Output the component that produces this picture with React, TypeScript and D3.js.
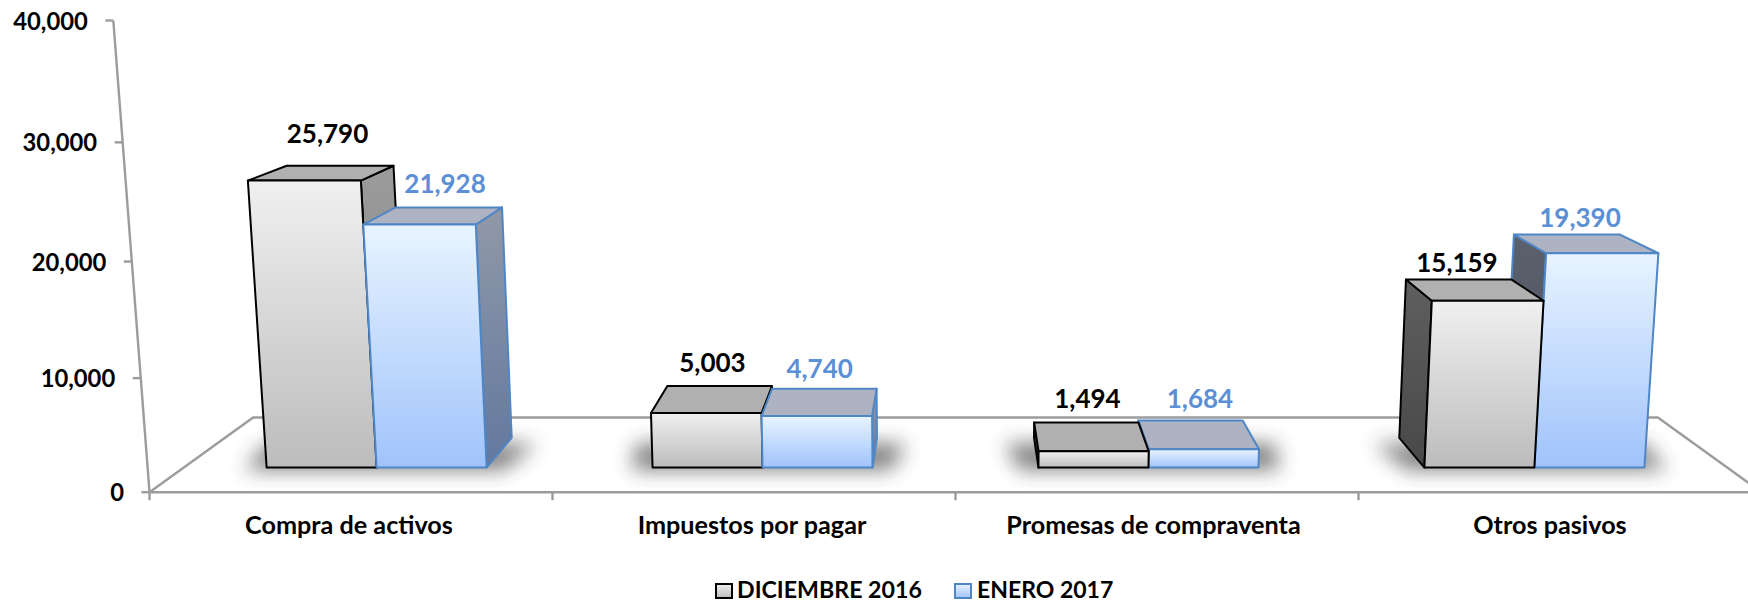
import React from "react";
import * as d3 from "d3";

const categories = ["Compra de activos", "Impuestos por pagar", "Promesas de compraventa", "Otros pasivos"];
const seriesNames = ["DICIEMBRE 2016", "ENERO 2017"];
const diciembre2016 = [25790, 5003, 1494, 15159];
const enero2017 = [21928, 4740, 1684, 19390];
const yTicks = [0, 10000, 20000, 30000, 40000];

// label nudges (layout only), px from the projected top-back centre of each bar
const labelNudgeD = [[-12.6, -22.3], [-7.2, -13.6], [1.2, -13.9], [-1.8, -7.4]];
const labelNudgeE = [[-3.8, -14.3], [-4.7, -10.4], [9.4, -12], [13, -7.4]];
const categoryNudge = [-2, -2, -3.5, -10];

const W = 1748, H = 603;
const FONT = "Lato, Carlito, Calibri, sans-serif";
const AXIS = "#9c9c9c";
const BLUE_TEXT = "#5b8fd6";

const uScale = d3.scaleLinear().domain([0, 4]).range([-2, 2]);
const tScale = d3.scaleLinear().domain([0, 40000]).range([0, 1]);
const group = d3.scaleBand<string>().domain(categories).range([0, 4]).paddingInner(0.43).paddingOuter(0.215);
const sub = d3.scaleBand<string>().domain(seriesNames).range([0, group.bandwidth()]);

// Perspective camera: u along the categories, v value, d depth
const cx = 955.5, A = 403, y0 = 492.2, Yv = 11000, Yd = -89, p = -0.04296, q = 0.1476;
function project(u: number, v: number, d: number): [number, number] {
  const t = tScale(v);
  const w = 1 + p * t + q * d;
  return [cx + (A * uScale(u)) / w, (y0 + Yv * p * t + Yd * q * d) / w];
}
const DF = 0.3, DB = 0.7;
const poly = (pts: [number, number][]) => pts.map((a) => a.map((n) => n.toFixed(2)).join(",")).join(" ");

type Bar = { i: number; s: number; u0: number; u1: number; v: number };
const bars: Bar[] = categories.flatMap((c, i) =>
  seriesNames.map((n, s) => {
    const u0 = (group(c) as number) + (sub(n) as number);
    return { i, s, u0, u1: u0 + sub.bandwidth(), v: (s === 0 ? diciembre2016 : enero2017)[i] };
  })
);
const midU = 2;
const ordered = [...bars].sort(
  (a, b) => Math.abs((b.u0 + b.u1) / 2 - midU) - Math.abs((a.u0 + a.u1) / 2 - midU)
);

function BarShape({ b }: { b: Bar }) {
  const { u0, u1, v, s } = b;
  const stroke = s === 0 ? "#000" : "#4f86c6";
  const leftOfCentre = (u0 + u1) / 2 < midU;
  const su = leftOfCentre ? u1 : u0; // the side that faces the centre
  const sideVisible = leftOfCentre ? u1 < midU : u0 > midU;
  const sideFill = s === 0 ? (leftOfCentre ? "url(#sideD)" : "url(#sideDdark)") : leftOfCentre ? "url(#sideE)" : "url(#sideEdark)";
  return (
    <g stroke={stroke} strokeWidth={2} strokeLinejoin="round">
      {sideVisible && (
        <polygon
          fill={sideFill}
          points={poly([project(su, 0, DF), project(su, v, DF), project(su, v, DB), project(su, 0, DB)])}
        />
      )}
      <polygon
        fill={s === 0 ? "#b0b0b0" : "#adb3c2"}
        points={poly([project(u0, v, DF), project(u1, v, DF), project(u1, v, DB), project(u0, v, DB)])}
      />
      <polygon
        fill={s === 0 ? "url(#frontD)" : "url(#frontE)"}
        points={poly([project(u0, 0, DF), project(u1, 0, DF), project(u1, v, DF), project(u0, v, DF)])}
      />
    </g>
  );
}

export default function App() {
  const floor = {
    fl: project(0, 0, 0),
    fr: project(4, 0, 0),
    bl: project(0, 0, 1),
    br: project(4, 0, 1),
  };
  const fmt = d3.format(",");
  return (
    <svg
      width={W}
      height={H}
      viewBox={`0 0 ${W} ${H}`}
      style={{ position: "absolute", left: 0, top: 0, background: "#fff" }}
      fontFamily={FONT}
      fontWeight={700}
    >
      <defs>
        <linearGradient id="frontD" x1="0" y1="0" x2="0" y2="1">
          <stop offset="0" stopColor="#f0f0f0" />
          <stop offset="1" stopColor="#bcbcbc" />
        </linearGradient>
        <linearGradient id="frontE" x1="0" y1="0" x2="0" y2="1">
          <stop offset="0" stopColor="#e8f4ff" />
          <stop offset="1" stopColor="#a0c3fb" />
        </linearGradient>
        <linearGradient id="sideD" x1="0" y1="0" x2="0" y2="1">
          <stop offset="0" stopColor="#9c9c9c" />
          <stop offset="1" stopColor="#7a7a7a" />
        </linearGradient>
        <linearGradient id="sideDdark" x1="0" y1="0" x2="0" y2="1">
          <stop offset="0" stopColor="#5f5f5f" />
          <stop offset="1" stopColor="#484848" />
        </linearGradient>
        <linearGradient id="sideE" x1="0" y1="0" x2="0" y2="1">
          <stop offset="0" stopColor="#9199a8" />
          <stop offset="1" stopColor="#62789f" />
        </linearGradient>
        <linearGradient id="sideEdark" x1="0" y1="0" x2="0" y2="1">
          <stop offset="0" stopColor="#5a606c" />
          <stop offset="1" stopColor="#4c5260" />
        </linearGradient>
        <filter id="soft" x="-30%" y="-80%" width="160%" height="260%">
          <feGaussianBlur stdDeviation="10" />
        </filter>
      </defs>

      {/* floor and value axis */}
      <g stroke={AXIS} strokeWidth={2.4} fill="none">
        <polyline points={poly([floor.fl, floor.bl, floor.br, floor.fr])} />
        <line x1={floor.fl[0]} y1={floor.fl[1]} x2={floor.fr[0]} y2={floor.fr[1]} />
        <line
          x1={project(0, 0, 0)[0]}
          y1={project(0, 0, 0)[1]}
          x2={project(0, 40000, 0)[0]}
          y2={project(0, 40000, 0)[1]}
        />
        {yTicks.map((t) => {
          const a = project(0, t, 0);
          return <line key={t} x1={a[0] - 8} y1={a[1]} x2={a[0]} y2={a[1]} />;
        })}
        {d3.range(0, 5).map((k) => {
          const a = project(k, 0, 0);
          return <line key={k} x1={a[0]} y1={a[1]} x2={a[0]} y2={a[1] + 8} />;
        })}
      </g>

      {/* soft shadows on the floor */}
      {categories.map((c) => {
        const a = group(c) as number;
        const b = a + group.bandwidth();
        return (
          <polygon
            key={c}
            fill="#333"
            opacity={0.62}
            filter="url(#soft)"
            points={poly([
              project(a - 0.05, 0, 0.27),
              project(b + 0.05, 0, 0.27),
              project(b + 0.08, 0, 0.62),
              project(a - 0.08, 0, 0.62),
            ])}
          />
        );
      })}

      {ordered.map((b) => (
        <BarShape key={`${b.i}-${b.s}`} b={b} />
      ))}

      {/* data labels */}
      {bars.map((b) => {
        const a = project((b.u0 + b.u1) / 2, b.v, DB);
        const n = (b.s === 0 ? labelNudgeD : labelNudgeE)[b.i];
        return (
          <text
            key={`l${b.i}-${b.s}`}
            x={a[0] + n[0]}
            y={a[1] + n[1]}
            textAnchor="middle"
            fontSize={26}
            fill={b.s === 0 ? "#000" : BLUE_TEXT}
          >
            {fmt(b.v)}
          </text>
        );
      })}

      {/* axis labels */}
      {yTicks.map((t) => {
        const a = project(0, t, 0);
        return (
          <text key={t} x={a[0] - 25.5} y={a[1] + 9} textAnchor="end" fontSize={23.8} fill="#000">
            {fmt(t)}
          </text>
        );
      })}
      {categories.map((c, i) => (
        <text
          key={c}
          x={project(i + 0.5, 0, 0)[0] + categoryNudge[i]}
          y={534}
          textAnchor="middle"
          fontSize={25.2}
          fill="#000"
        >
          {c}
        </text>
      ))}

      {/* legend */}
      <g stroke="#000" strokeWidth={2}>
        <rect x={716} y={584} width={16} height={14} fill="url(#frontD)" />
      </g>
      <text x={737} y={598.3} fontSize={23.2} fill="#000">{seriesNames[0]}</text>
      <rect x={955} y={584} width={16} height={14} fill="url(#frontE)" stroke="#4f86c6" strokeWidth={2} />
      <text x={977} y={598.3} fontSize={23} fill="#000">{seriesNames[1]}</text>
    </svg>
  );
}
